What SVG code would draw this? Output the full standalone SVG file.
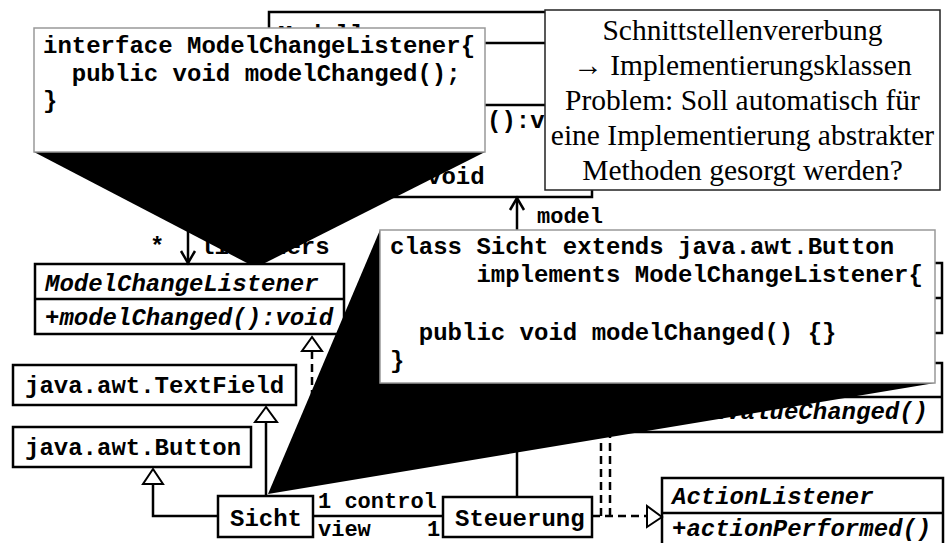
<svg xmlns="http://www.w3.org/2000/svg" width="952" height="543" viewBox="0 0 952 543">
<style>
.box{fill:#fff;stroke:#000;stroke-width:2.5}
.ln{fill:none;stroke:#000;stroke-width:2.5}
.dash{fill:none;stroke:#000;stroke-width:2.5;stroke-dasharray:8,5}
.tri{fill:#fff;stroke:#000;stroke-width:2}
.m{font-family:"Liberation Mono","Courier New",monospace;font-weight:bold;font-size:24px;fill:#000}
.i{font-style:italic}
.lbl{font-family:"Liberation Mono","Courier New",monospace;font-weight:bold;font-size:22px;fill:#000}
.code{font-family:"Liberation Mono","Courier New",monospace;font-weight:bold;font-size:24px;fill:#000}
.note{font-family:"Liberation Serif","Times New Roman",serif;font-size:29.5px;text-anchor:middle;fill:#000}
.cbox{fill:#fff;stroke:#999;stroke-width:1.5}
.wedge{fill:#000;stroke:none}
</style>

<g id="Modell">
  <rect class="box" x="269" y="12" width="323" height="185"/>
  <line class="ln" x1="269" y1="43" x2="592" y2="43"/>
  <line class="ln" x1="269" y1="105" x2="592" y2="105"/>
  <text class="m" x="278" y="42">Modell</text>
  <text class="m" x="487" y="128">():void</text>
  <text class="m" x="427" y="184">void</text>
</g>

<g id="ModelChangeListener">
  <rect class="box" x="35" y="264" width="309" height="70"/>
  <line class="ln" x1="35" y1="299" x2="344" y2="299"/>
  <text class="m i" x="45" y="291">ModelChangeListener</text>
  <text class="m i" x="45" y="325">+modelChanged():void</text>
</g>

<g id="TextField">
  <rect class="box" x="13" y="365" width="283" height="40"/>
  <text class="m" x="25" y="393">java.awt.TextField</text>
</g>

<g id="Button">
  <rect class="box" x="13" y="427" width="238" height="40"/>
  <text class="m" x="25" y="455">java.awt.Button</text>
</g>

<g id="Sicht">
  <rect class="box" x="218" y="496" width="95" height="41"/>
  <text class="m" x="230" y="526">Sicht</text>
</g>

<g id="Steuerung">
  <rect class="box" x="443" y="497" width="149" height="40"/>
  <text class="m" x="455" y="526">Steuerung</text>
</g>

<g id="ActionListener">
  <rect class="box" x="662" y="478" width="281" height="90"/>
  <line class="ln" x1="662" y1="513" x2="943" y2="513"/>
  <text class="m i" x="672" y="504">ActionListener</text>
  <text class="m i" x="672" y="536">+actionPerformed()</text>
</g>

<g id="Listener1">
  <rect class="box" x="700" y="263" width="242" height="70"/>
  <line class="ln" x1="700" y1="298" x2="942" y2="298"/>
</g>

<g id="Listener2">
  <rect class="box" x="630" y="363" width="312" height="69"/>
  <line class="ln" x1="630" y1="397" x2="942" y2="397"/>
  <text class="m i" x="928" y="419" text-anchor="end">+textValueChanged()</text>
</g>

<g id="connectors">
  <line class="ln" x1="188" y1="210" x2="188" y2="263"/>
  <polyline class="ln" points="181,251 188,263 195,251"/>
  <text class="m" x="150" y="254">*</text>
  <text class="m" x="200" y="254">listeners</text>
  <line class="ln" x1="517" y1="497" x2="517" y2="198"/>
  <polyline class="ln" points="510,210 517,198 524,210"/>
  <text class="lbl" x="537" y="223">model</text>
  <line class="dash" x1="312" y1="351" x2="312" y2="440"/>
  <polygon class="tri" points="312,337 302,351 322,351"/>
  <line class="ln" x1="266" y1="496" x2="266" y2="422"/>
  <polygon class="tri" points="266,407 255,422 277,422"/>
  <polyline class="ln" points="218,516 153,516 153,484"/>
  <polygon class="tri" points="153,469 143,484 163,484"/>
  <line class="ln" x1="313" y1="516" x2="443" y2="516"/>
  <text class="lbl" x="318" y="508">1 control</text>
  <text class="lbl" x="318" y="536">view</text>
  <text class="lbl" x="427" y="536">1</text>
  <line class="dash" x1="592" y1="516" x2="647" y2="516"/>
  <polygon class="tri" points="662,517 647,506 647,527"/>
  <line class="dash" x1="601" y1="516" x2="601" y2="420"/>
  <line class="dash" x1="610" y1="516" x2="610" y2="420"/>
</g>

<g id="callout-interface">
  <polygon class="wedge" points="34,152 485,152 265,263 247,263"/>
  <rect class="cbox" x="34" y="28" width="451" height="124"/>
  <text class="code" x="43" y="53">interface ModelChangeListener{</text>
  <text class="code" x="71.8" y="81">public void modelChanged();</text>
  <text class="code" x="43" y="108">}</text>
</g>

<g id="callout-class">
  <polygon class="wedge" points="380,230 268,494 935,383 935,230"/>
  <rect class="cbox" x="380" y="230" width="555" height="153"/>
  <text class="code" x="390" y="254">class Sicht extends java.awt.Button</text>
  <text class="code" x="476.4" y="282">implements ModelChangeListener{</text>
  <text class="code" x="418.8" y="340">public void modelChanged() {}</text>
  <text class="code" x="390" y="368">}</text>
</g>

<g id="note">
  <rect x="545" y="10" width="395" height="180" fill="#fff" stroke="#222" stroke-width="1.5"/>
  <text class="note" x="742.5" y="40">Schnittstellenvererbung</text>
  <text class="note" x="742.5" y="75">→ Implementierungsklassen</text>
  <text class="note" x="742.5" y="110">Problem: Soll automatisch für</text>
  <text class="note" x="742.5" y="145">eine Implementierung abstrakter</text>
  <text class="note" x="742.5" y="180">Methoden gesorgt werden?</text>
</g>
</svg>
